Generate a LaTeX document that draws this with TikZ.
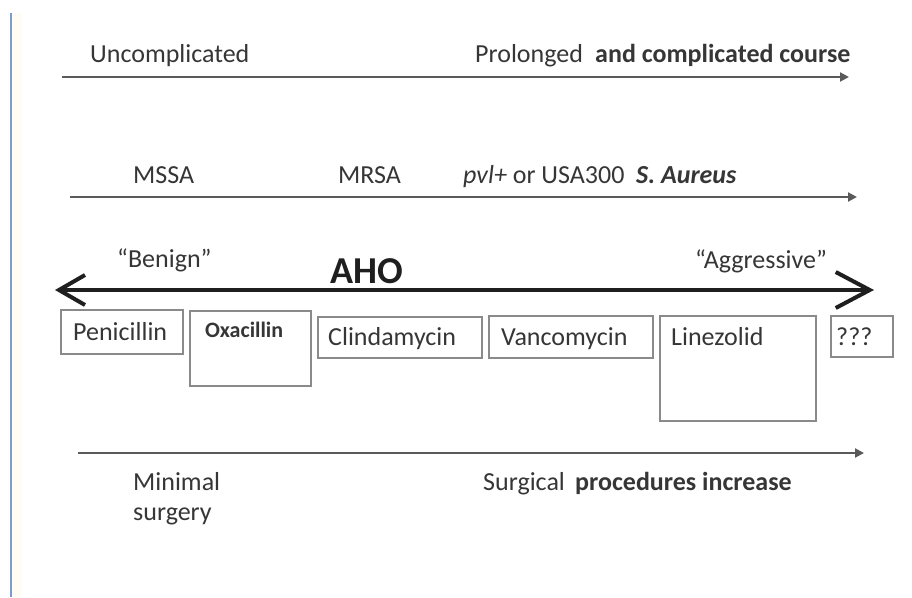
\documentclass[tikz,border=0pt]{standalone}
\usepackage{fontspec}
\setmainfont{Carlito}
\usetikzlibrary{arrows.meta}

\definecolor{inkgray}{HTML}{363636}
\definecolor{linegray}{HTML}{5A5A5A}
\definecolor{boxgray}{HTML}{8A8A8A}
\definecolor{edgeblue}{RGB}{126,155,205}
\definecolor{edgecream}{RGB}{254,252,243}

\tikzset{
  lbl/.style={inner sep=0pt, anchor=base west, text=inkgray, font=\fontsize{26}{30}\selectfont},
  boldlbl/.style={lbl, font=\fontsize{26}{30}\selectfont\bfseries},
  thinarrow/.style={draw=linegray, line width=2pt, -{Triangle[length=9pt,width=9pt]}},
  bigarrow/.style={draw=black!88, line width=4.2pt,
    {Straight Barb[length=26pt,width=30pt,line width=4pt]}-{Straight Barb[length=34pt,width=36pt,line width=4pt]}},
  drugbox/.style={draw=boxgray, line width=1.6pt, inner sep=0pt, anchor=north west}
}

\begin{document}
\begin{tikzpicture}[x=1pt,y=-1pt]
  \useasboundingbox (0,0) rectangle (912,597);
  \fill[white] (0,0) rectangle (912,597);

  % slide edge on the left
  \fill[edgecream] (13,13) rectangle (22,597);
  \draw[edgeblue, line width=2.6pt] (11,13) -- (11,597);

  % course of the disease
  \node[lbl] (uncomp) at (90,62) {Uncomplicated};
  \node[lbl] (prolong) at (475,62) {Prolonged};
  \node[boldlbl] (compl) at (595,62) {and complicated course};
  \coordinate (courseA) at (62,77);
  \coordinate (courseB) at (849,77);
  \draw[thinarrow] (courseA) -- (courseB);

  % organism
  \node[lbl] (mssa) at (133,183) {MSSA};
  \node[lbl] (mrsa) at (338,183) {MRSA};
  \node[lbl] (pvl) at (463,183) {\textit{pvl+} or USA300};
  \node[boldlbl, font=\fontsize{26}{30}\selectfont\bfseries\itshape] (saur) at (636,183) {S. Aureus};
  \coordinate (orgA) at (70,197);
  \coordinate (orgB) at (857,197);
  \draw[thinarrow] (orgA) -- (orgB);

  % AHO severity axis
  \node[lbl] (benign) at (117,267) {“Benign”};
  \node[lbl, font=\fontsize{38}{42}\selectfont\bfseries, text=black!88] (aho) at (330,283) {AHO};
  \node[lbl] (aggr) at (695,268) {“Aggressive”};
  \coordinate (ahoA) at (55,290);
  \coordinate (ahoB) at (874,290);
  \draw[bigarrow] (ahoA) -- (ahoB);

  % antibiotics
  \node[drugbox, minimum width=122pt, minimum height=44pt] (penbox) at (60,309) {};
  \node[lbl] (pen) at (73,340) {Penicillin};
  \node[drugbox, minimum width=121pt, minimum height=75pt] (oxabox) at (189,310) {};
  \node[boldlbl, font=\fontsize{22}{26}\selectfont\bfseries] (oxa) at (205,337) {Oxacillin};
  \node[drugbox, minimum width=164pt, minimum height=41pt] (clibox) at (317,316) {};
  \node[lbl] (cli) at (328,345) {Clindamycin};
  \node[drugbox, minimum width=164pt, minimum height=42pt] (vanbox) at (488,315) {};
  \node[lbl] (van) at (501,345) {Vancomycin};
  \node[drugbox, minimum width=156pt, minimum height=105pt] (linbox) at (659,315) {};
  \node[lbl] (lin) at (671,345) {Linezolid};
  \node[drugbox, minimum width=62pt, minimum height=41pt] (qbox) at (830,315) {};
  \node[lbl] (q) at (836,345) {???};

  % surgery
  \coordinate (surgA) at (78,453);
  \coordinate (surgB) at (864,453);
  \draw[thinarrow] (surgA) -- (surgB);
  \node[lbl] (minimal) at (133,490) {Minimal};
  \node[lbl] (surgery) at (133,520) {surgery};
  \node[lbl] (surgical) at (483,490) {Surgical};
  \node[boldlbl] (proc) at (575,490) {procedures increase};
\end{tikzpicture}
\end{document}
